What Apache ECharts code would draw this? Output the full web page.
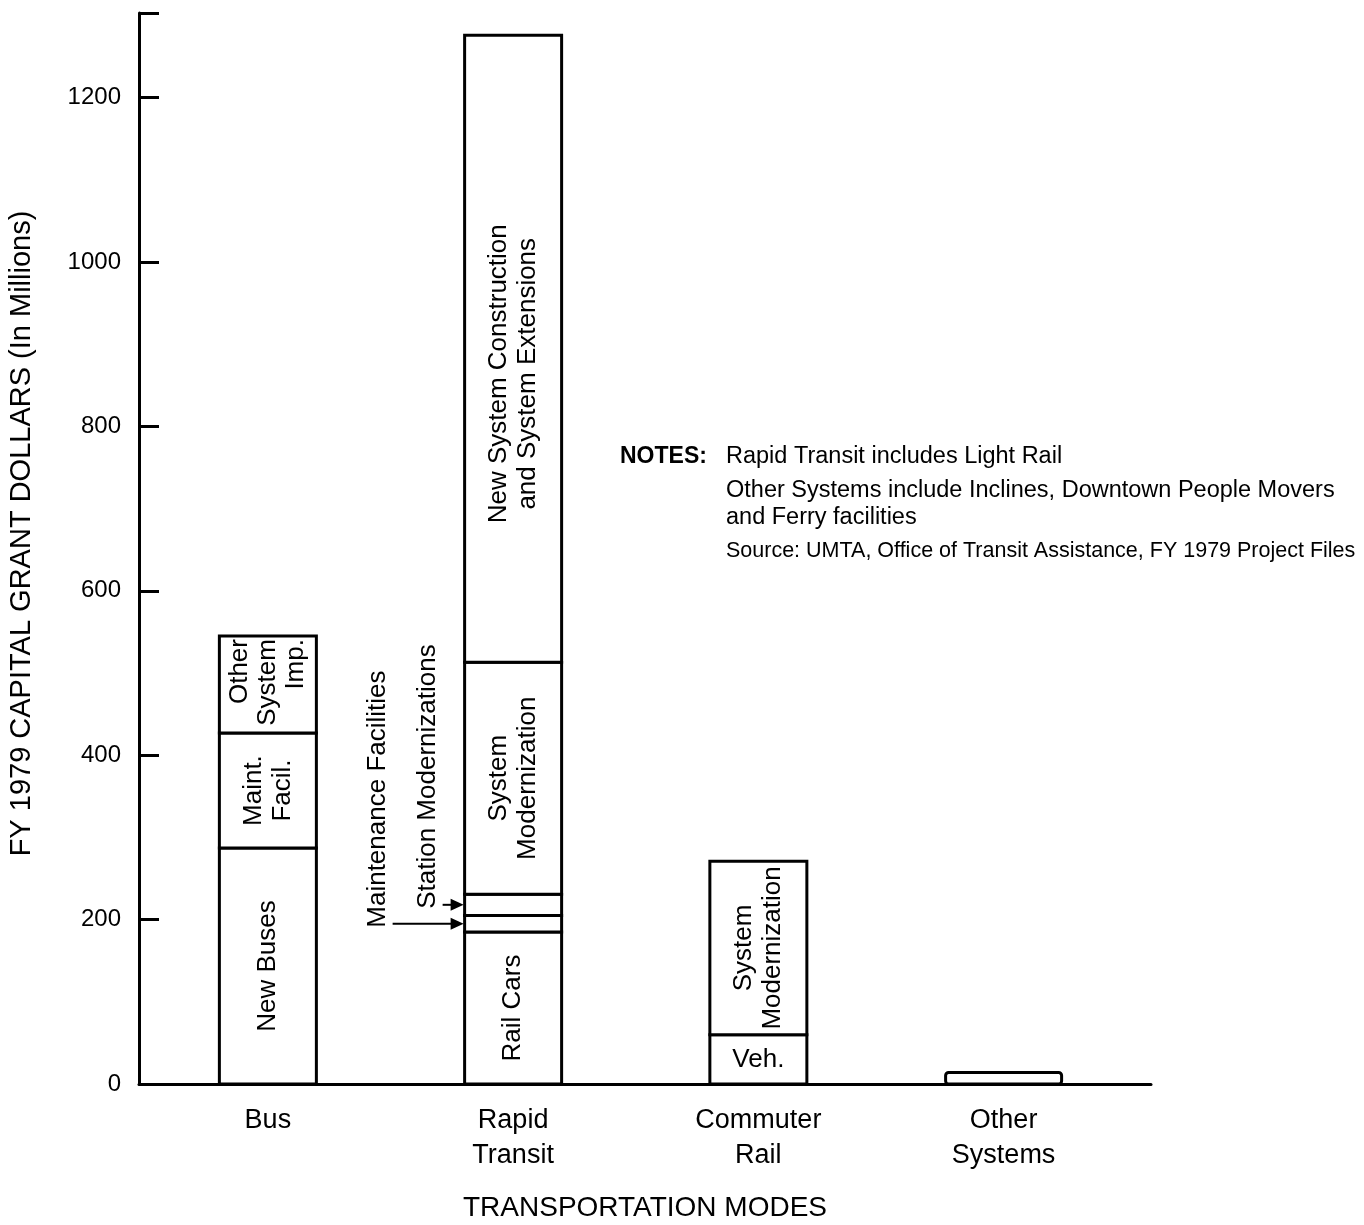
<!DOCTYPE html>
<html><head><meta charset="utf-8">
<script src="https://cdn.jsdelivr.net/npm/echarts@6/dist/echarts.min.js"></script>
<style>html,body{margin:0;padding:0;background:#fff}#chart{width:1364px;height:1225px}</style>
</head><body><div id="chart"></div>
<script>
// ---- data ----
const categories = ['Bus', 'Rapid\nTransit', 'Commuter\nRail', 'Other\nSystems'];
const busSegments = ['New Buses', 'Maint.\nFacil.', 'Other\nSystem\nImp.'];
const busValues = [287, 140, 118];
const rapidSegments = ['Rail Cars', 'Maintenance Facilities', 'Station Modernizations', 'System\nModernization', 'New System Construction\nand System Extensions'];
const rapidValues = [185, 20, 26, 282, 763];
const commuterSegments = ['Veh.', 'System\nModernization'];
const commuterValues = [60, 211];
const otherSegments = [''];
const otherValues = [14];
const yTickValues = [0, 200, 400, 600, 800, 1000, 1200];
const yMax = 1303;
const noteLines = [
  'Rapid Transit includes Light Rail',
  'Other Systems include Inclines, Downtown People Movers',
  'and Ferry facilities'
];
const sourceLine = 'Source: UMTA, Office of Transit Assistance, FY 1979 Project Files';

// ---- build stacked segments ----
const groups = [[busSegments, busValues], [rapidSegments, rapidValues], [commuterSegments, commuterValues], [otherSegments, otherValues]];
const segData = [];
groups.forEach(([names, vals], ci) => {
  let base = 0;
  vals.forEach((v, i) => { segData.push({ name: names[i], value: [ci, base, base + v] }); base += v; });
});

// ---- styles ----
const FONT = '"Liberation Sans", Arial, Helvetica, sans-serif';
const BAR_W = [97, 97, 97, 116];
const HORIZONTAL = new Set(['Veh.']);
const TOP_ALIGNED = new Set(['Other\nSystem\nImp.']);
const CALLOUT_DX = { 'Maintenance Facilities': 87, 'Station Modernizations': 37 };
const LABEL_SHIFT = { 'New System Construction\nand System Extensions': 25 };

function renderItem(params, api) {
  const ci = api.value(0);
  const p0 = api.coord([ci, api.value(1)]);
  const p1 = api.coord([ci, api.value(2)]);
  const w = BAR_W[ci];
  const x = p0[0] - w / 2;
  const yTop = p1[1], yBot = p0[1];
  const name = segData[params.dataIndex].name;
  const children = [{
    type: 'rect',
    shape: { x: x, y: yTop, width: w, height: yBot - yTop, r: ci === 3 ? 3 : 0 },
    style: { fill: '#fff', stroke: '#000', lineWidth: 3 }
  }];
  const cy = (yTop + yBot) / 2;
  if (name) {
    if (CALLOUT_DX[name] != null) {
      const tx = x - CALLOUT_DX[name];
      children.push({ type: 'text', x: tx, y: cy + 4, rotation: Math.PI / 2,
        style: { text: name, font: '26px ' + FONT, fill: '#000', align: 'left', verticalAlign: 'middle' } });
      children.push({ type: 'line', shape: { x1: tx + 15, y1: cy, x2: x - 8, y2: cy },
        style: { stroke: '#000', lineWidth: 2 } });
      children.push({ type: 'polygon', shape: { points: [[x - 1, cy], [x - 14, cy - 6], [x - 14, cy + 6]] },
        style: { fill: '#000' } });
    } else if (TOP_ALIGNED.has(name)) {
      children.push({ type: 'text', x: p0[0], y: yTop + 3, rotation: Math.PI / 2,
        style: { text: name, font: '26px ' + FONT, fill: '#000', align: 'right', verticalAlign: 'middle', lineHeight: 28 } });
    } else {
      children.push({ type: 'text', x: p0[0], y: cy + (LABEL_SHIFT[name] || 0),
        rotation: HORIZONTAL.has(name) ? 0 : Math.PI / 2,
        style: { text: name, font: '26px ' + FONT, fill: '#000', align: 'center', verticalAlign: 'middle', lineHeight: 29 } });
    }
  }
  return { type: 'group', children: children };
}

const chart = echarts.init(document.getElementById('chart'), null, { renderer: 'canvas' });
chart.setOption({
  backgroundColor: '#fff',
  animation: false,
  textStyle: { fontFamily: FONT },
  grid: { left: 139, right: 213, top: 13, bottom: 141, containLabel: false, outerBoundsMode: 'none' },
  xAxis: {
    type: 'value', min: -0.5255, max: 3.601,
    name: 'TRANSPORTATION MODES', nameLocation: 'middle', nameGap: 110,
    nameTextStyle: { fontSize: 28, color: '#000', fontFamily: FONT },
    axisLine: { show: true, onZero: false, lineStyle: { color: '#000', width: 3 } },
    axisTick: { show: false },
    splitLine: { show: false },
    axisLabel: {
      customValues: [0, 1, 2, 3],
      formatter: v => categories[Math.round(v)] || '',
      fontSize: 27, lineHeight: 35, margin: 19, color: '#000', fontFamily: FONT
    }
  },
  yAxis: {
    type: 'value', min: 0, max: yMax, interval: 200,
    name: 'FY 1979 CAPITAL GRANT DOLLARS (In Millions)', nameLocation: 'middle', nameRotate: 90, nameGap: 103,
    nameTextStyle: { fontSize: 29, color: '#000', fontFamily: FONT, padding: [0, 0, 0, 30] },
    axisLine: { show: true, onZero: false, lineStyle: { color: '#000', width: 3 } },
    axisTick: { show: true, inside: true, length: 20, lineStyle: { color: '#000', width: 3 } },
    splitLine: { show: false },
    axisLabel: {
      formatter: v => (yTickValues.indexOf(v) >= 0 ? String(v) : ''),
      fontSize: 24, margin: 18, color: '#000', fontFamily: FONT
    }
  },
  series: [{
    type: 'custom',
    renderItem: renderItem,
    clip: false,
    encode: { x: 0, y: [1, 2] },
    data: segData
  }],
  graphic: [
    { type: 'text', left: 620, top: 445, style: { text: 'NOTES:', font: 'bold 23px ' + FONT, fill: '#000' } },
    { type: 'text', left: 726, top: 445, style: { text: noteLines[0], font: '23.5px ' + FONT, fill: '#000' } },
    { type: 'text', left: 726, top: 479, style: { text: noteLines[1], font: '23.5px ' + FONT, fill: '#000' } },
    { type: 'text', left: 726, top: 506, style: { text: noteLines[2], font: '23.5px ' + FONT, fill: '#000' } },
    { type: 'text', left: 726, top: 540, style: { text: sourceLine, font: '21.5px ' + FONT, fill: '#000' } }
  ]
});
</script>
</body></html>
